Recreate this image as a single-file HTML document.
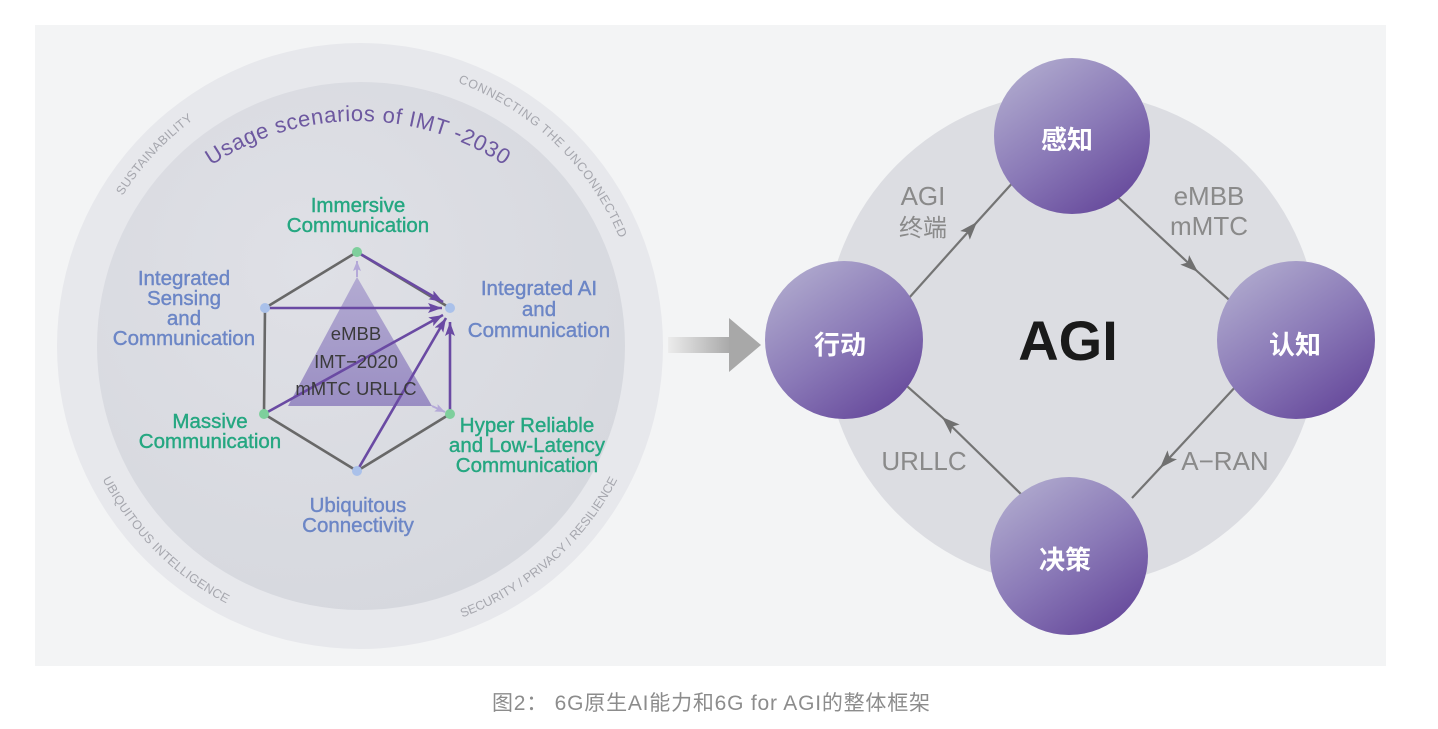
<!DOCTYPE html>
<html><head><meta charset="utf-8"><style>
html,body{margin:0;padding:0;background:#fff;width:1438px;height:729px;overflow:hidden}
svg{display:block}
</style></head><body>
<svg width="1438" height="729" viewBox="0 0 1438 729" xmlns="http://www.w3.org/2000/svg">
<defs>
 <linearGradient id="pg" x1="0.2" y1="0.1" x2="0.8" y2="0.95">
  <stop offset="0" stop-color="#aba4cb"/>
  <stop offset="0.5" stop-color="#8a79b7"/>
  <stop offset="1" stop-color="#674a9c"/>
 </linearGradient>
 <linearGradient id="tri" x1="0" y1="0" x2="0" y2="1">
  <stop offset="0" stop-color="#b3abd2"/><stop offset="1" stop-color="#9a8ec3"/>
 </linearGradient>
 <linearGradient id="sh" x1="0" y1="0" x2="1" y2="0">
  <stop offset="0" stop-color="#ececec"/><stop offset="1" stop-color="#a8a8a8"/>
 </linearGradient>
 <radialGradient id="inner" cx="0.4" cy="0.35" r="0.7">
  <stop offset="0" stop-color="#dfe0e6"/><stop offset="1" stop-color="#d6d8de"/>
 </radialGradient>
 <marker id="pa" markerUnits="userSpaceOnUse" markerWidth="16" markerHeight="12" refX="14" refY="5" orient="auto">
  <path d="M0,0 L14,5 L0,10 L3,5 z" fill="#6a4aa3"/>
 </marker>
 <marker id="la" markerUnits="userSpaceOnUse" markerWidth="12" markerHeight="10" refX="10" refY="4" orient="auto">
  <path d="M0,0 L10,4 L0,8 L2,4 z" fill="#b4a9d8"/>
 </marker>
 <marker id="ga" markerUnits="userSpaceOnUse" markerWidth="20" markerHeight="14" refX="18" refY="6.5" orient="auto">
  <path d="M0,0 L18,6.5 L0,13 L4,6.5 z" fill="#707070"/>
 </marker>
 <path id="usage" d="M95,384 A263,263 0 0 1 621,384"/>
 <path id="p1" d="M81.1,380.3 A281,281 0 0 1 374.7,65.4"/>
 <path id="p2" d="M330.6,66.5 A281,281 0 0 1 640.3,365.6"/>
 <path id="p3" d="M71.1,320.7 A290,290 0 0 0 385.3,634.9"/>
 <path id="p4" d="M317.6,632.9 A290,290 0 0 0 649.9,337.9"/>
</defs>

<rect x="35" y="25" width="1351" height="641" fill="#f3f4f5"/>

<!-- LEFT DIAGRAM -->
<circle cx="360" cy="346" r="303" fill="#e7e8ec"/>
<circle cx="361" cy="346" r="264" fill="url(#inner)"/>

<g font-family="Liberation Sans, sans-serif" font-size="12.5" fill="#a6a7ae">
 <text letter-spacing="0.35"><textPath href="#p1" startOffset="50%" text-anchor="middle">SUSTAINABILITY</textPath></text>
 <text letter-spacing="0.7"><textPath href="#p2" startOffset="50%" text-anchor="middle">CONNECTING THE UNCONNECTED</textPath></text>
 <text letter-spacing="0.3"><textPath href="#p3" startOffset="50%" text-anchor="middle">UBIQUITOUS INTELLIGENCE</textPath></text>
 <text letter-spacing="0"><textPath href="#p4" startOffset="50%" text-anchor="middle">SECURITY / PRIVACY / RESILIENCE</textPath></text>
</g>

<text font-family="Liberation Sans, sans-serif" font-size="22" fill="#6d58a0" letter-spacing="0.6"><textPath href="#usage" startOffset="50%" text-anchor="middle">Usage scenarios of IMT -2030</textPath></text>

<!-- triangle -->
<polygon points="357,277 288,406 432,406" fill="url(#tri)"/>

<!-- hexagon grey edges -->
<polyline points="450,308 357,252 265,308 264,414 357,471 450,414" fill="none" stroke="#686868" stroke-width="2.6" stroke-linejoin="round"/>

<!-- light arrows -->
<line x1="357" y1="277" x2="357" y2="261" stroke="#b4a9d8" stroke-width="2" marker-end="url(#la)"/>
<line x1="432" y1="406" x2="445" y2="412" stroke="#b4a9d8" stroke-width="2" marker-end="url(#la)"/>

<!-- purple arrows -->
<g stroke="#6a4aa3" stroke-width="2.6" fill="none">
 <line x1="357" y1="252" x2="443" y2="302" marker-end="url(#pa)"/>
 <line x1="265" y1="308" x2="442" y2="308" marker-end="url(#pa)"/>
 <line x1="264" y1="414" x2="443" y2="315" marker-end="url(#pa)"/>
 <line x1="357" y1="471" x2="446" y2="318" marker-end="url(#pa)"/>
 <line x1="450" y1="414" x2="450" y2="322" marker-end="url(#pa)"/>
</g>

<!-- vertex dots -->
<circle cx="357" cy="252" r="5" fill="#7ecf9c"/>
<circle cx="265" cy="308" r="5" fill="#aac1ea"/>
<circle cx="450" cy="308" r="5" fill="#aac1ea"/>
<circle cx="264" cy="414" r="5" fill="#7ecf9c"/>
<circle cx="450" cy="414" r="5" fill="#7ecf9c"/>
<circle cx="357" cy="471" r="5" fill="#aac1ea"/>

<!-- triangle text -->
<g font-family="Liberation Sans, sans-serif" font-size="18.5" fill="#3a3a3a" text-anchor="middle">
 <text x="356" y="340">eMBB</text>
 <text x="356" y="368">IMT−2020</text>
 <text x="356" y="395">mMTC URLLC</text>
</g>

<!-- hex labels -->
<g font-family="Liberation Sans, sans-serif" font-size="20.5" text-anchor="middle">
 <g fill="#25a781" stroke="#25a781" stroke-width="0.4">
  <text x="358" y="212">Immersive</text>
  <text x="358" y="232">Communication</text>
  <text x="210" y="428">Massive</text>
  <text x="210" y="448">Communication</text>
  <text x="527" y="432">Hyper Reliable</text>
  <text x="527" y="452">and Low-Latency</text>
  <text x="527" y="472">Communication</text>
 </g>
 <g fill="#6c86c6" stroke="#6c86c6" stroke-width="0.4">
  <text x="184" y="285">Integrated</text>
  <text x="184" y="305">Sensing</text>
  <text x="184" y="325">and</text>
  <text x="184" y="345">Communication</text>
  <text x="539" y="295">Integrated AI</text>
  <text x="539" y="316">and</text>
  <text x="539" y="337">Communication</text>
  <text x="358" y="512">Ubiquitous</text>
  <text x="358" y="532">Connectivity</text>
 </g>
</g>

<!-- middle arrow -->
<rect x="668" y="337" width="63" height="16" fill="url(#sh)"/>
<polygon points="729,318 761,345 729,372" fill="#a8a8a8"/>

<!-- RIGHT DIAGRAM -->
<circle cx="1072" cy="339" r="247" fill="#dcdde2"/>

<g fill="none" stroke="#747474" stroke-width="2.2">
 <polyline points="900,308 977,222 1016,179" marker-mid="url(#ga)"/>
 <polyline points="1110,190 1198,272 1236,306" marker-mid="url(#ga)"/>
 <polyline points="1238,384 1160,468 1132,498" marker-mid="url(#ga)"/>
 <polyline points="1025,498 942,417 900,380" marker-mid="url(#ga)"/>
</g>

<circle cx="1072" cy="136" r="78" fill="url(#pg)"/>
<circle cx="844" cy="340" r="79" fill="url(#pg)"/>
<circle cx="1296" cy="340" r="79" fill="url(#pg)"/>
<circle cx="1069" cy="556" r="79" fill="url(#pg)"/>

<g font-family="Liberation Sans, 'Noto Sans CJK SC', sans-serif" font-size="26" font-weight="bold" fill="#ffffff" text-anchor="middle">
 <text x="1067" y="149">感知</text>
 <text x="840" y="354">行动</text>
 <text x="1295" y="354">认知</text>
 <text x="1065" y="569">决策</text>
</g>

<g font-family="Liberation Sans, 'Noto Sans CJK SC', sans-serif" font-size="26" fill="#8a8a8a" text-anchor="middle">
 <text x="923" y="205">AGI</text>
 <text x="923" y="236" font-size="24">终端</text>
 <text x="1209" y="205">eMBB</text>
 <text x="1209" y="235">mMTC</text>
 <text x="924" y="470">URLLC</text>
 <text x="1225" y="470">A−RAN</text>
</g>

<text x="1068" y="360" font-family="Liberation Sans, sans-serif" font-size="56" font-weight="bold" fill="#1a1a1a" text-anchor="middle">AGI</text>

<!-- caption -->
<text x="711" y="710" font-family="Liberation Sans, 'Noto Sans CJK SC', sans-serif" font-size="21" fill="#8c8c8c" text-anchor="middle" textLength="438" lengthAdjust="spacing">图2： 6G原生AI能力和6G for AGI的整体框架</text>
</svg>
</body></html>
